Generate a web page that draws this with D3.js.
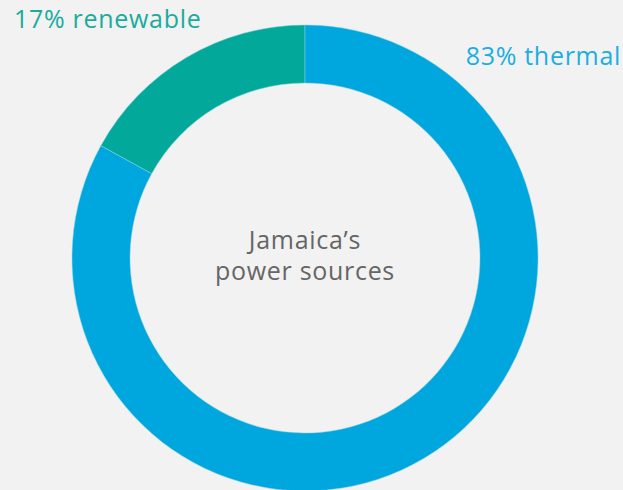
<!DOCTYPE html>
<html>
<head>
<meta charset="utf-8">
<script src="https://cdn.jsdelivr.net/npm/d3@7"></script>
<style>
  body { margin: 0; background: #f2f2f2; }
  svg { display: block; }
  text { font-family: 'Open Sans', sans-serif; font-weight: 400; font-size: 25px; letter-spacing: 0.7px; }
</style>
</head>
<body>
<div id="chart"></div>
<script>
  // data
  const sources = ['renewable', 'thermal'];
  const shares = [17, 83];
  const colors = ['#02a99b', '#00a6de'];
  const labelColors = ['#1aab9d', '#1aaee3'];
  const centerLines = ['Jamaica\u2019s', 'power sources'];

  const w = 623;
  const h = 490;
  const cx = 305, cy = 258;
  const outerR = 233, innerR = 175;

  let svg = d3.select('#chart').append('svg')
      .attr('width', w)
      .attr('height', h)
      .style('background-color', '#f2f2f2');

  let data = sources.map((s, i) => ({ name: s, value: shares[i], color: colors[i], label: labelColors[i] }));

  // renewable slice ends at 12 o'clock, going anticlockwise
  let pie = d3.pie()
      .sort(null)
      .value(d => d.value)
      .startAngle(-2 * Math.PI * shares[0] / 100)
      .endAngle(2 * Math.PI - 2 * Math.PI * shares[0] / 100);

  let arc = d3.arc()
      .innerRadius(innerR)
      .outerRadius(outerR);

  let g = svg.append('g').attr('transform', `translate(${cx},${cy})`);

  g.selectAll('path')
    .data(pie(data))
    .enter()
    .append('path')
      .attr('d', arc)
      .attr('fill', d => d.data.color)
      .attr('stroke', '#8fd3e0')
      .attr('stroke-width', 0.5);

  // slice labels
  svg.append('text')
      .attr('x', 14)
      .attr('y', 28)
      .attr('fill', labelColors[0])
      .text(shares[0] + '% ' + sources[0]);

  svg.append('text')
      .attr('x', 621)
      .attr('y', 65)
      .attr('text-anchor', 'end')
      .attr('fill', labelColors[1])
      .text(shares[1] + '% ' + sources[1]);

  // center title
  svg.selectAll('.center')
    .data(centerLines)
    .enter()
    .append('text')
      .attr('class', 'center')
      .attr('x', cx)
      .attr('y', (d, i) => 249 + i * 31)
      .attr('text-anchor', 'middle')
      .attr('fill', '#666666')
      .text(d => d);
</script>
</body>
</html>
